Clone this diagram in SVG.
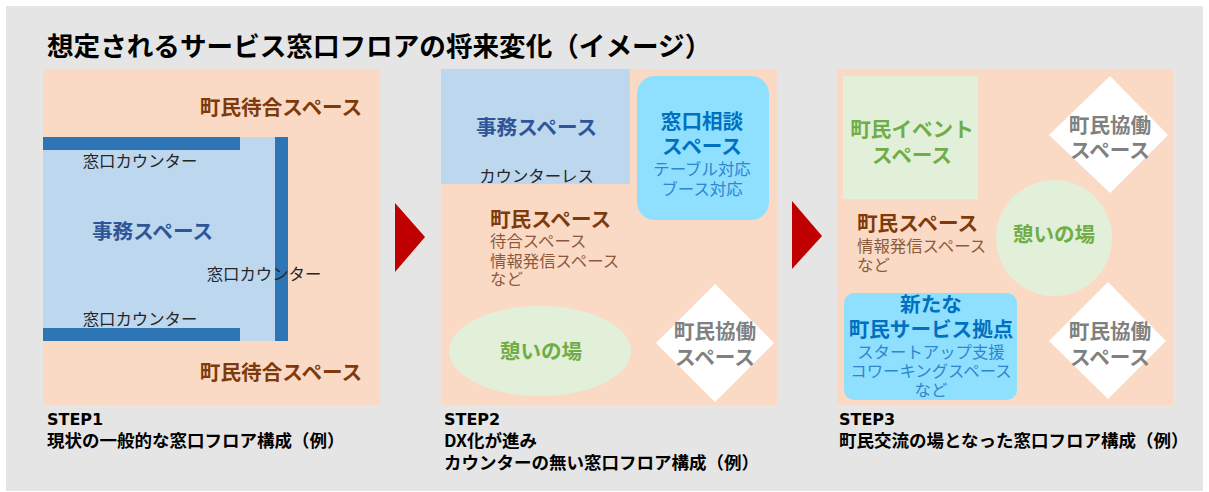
<svg xmlns="http://www.w3.org/2000/svg" width="1209" height="492" viewBox="0 0 1209 492">
<style>
text{font-family:"Noto Sans CJK JP","Noto Sans",sans-serif;text-anchor:middle}
.l{text-anchor:start}
.b{font-weight:700}
.h{font-size:20.6px;font-weight:700}
.s{font-size:16.4px}
.brown{fill:#7f3a0c}
.lb{fill:#8b5a3c}
.navy{fill:#2f5597}
.dk{fill:#262626}
.blue{fill:#0070c0}
.lblue{fill:#2e86d0}
.green{fill:#70ad47}
.gray{fill:#808080}
.cap{font-size:17.5px;font-weight:700;fill:#000}
.step{font-family:"DejaVu Sans",sans-serif;font-size:16px;font-weight:700;fill:#000}
.floor{fill:#fbdac5}
.office{fill:#bdd7ee}
.counter{fill:#2e75b6}
.soft{fill:#8fdfff}
.pale{fill:#e2f0d9}
.w{fill:#fff}
.arrow{fill:#c00000}
</style>
<rect x="0" y="0" width="1209" height="492" fill="#ffffff"/>
<rect x="6" y="6" width="1197" height="485" fill="#e5e5e5"/>
<text id="title" class="l b" x="47" y="56" font-size="26.6" fill="#000">想定されるサービス窓口フロアの将来変化（イメージ）</text>

<g id="connectors">
<polygon class="arrow" points="395,203 425,237 395,272"/>
<polygon class="arrow" points="792,201 822,236 792,269"/>
</g>

<g id="step1">
<rect class="floor" x="43" y="69" width="337" height="336"/>
<rect class="office" x="43" y="137" width="245" height="204"/>
<rect class="counter" x="43" y="137" width="197" height="13"/>
<rect class="counter" x="275" y="137" width="13" height="204"/>
<rect class="counter" x="43" y="328" width="197" height="13"/>
<text class="h brown" x="281" y="115">町民待合スペース</text>
<text class="h brown" x="281" y="380">町民待合スペース</text>
<text class="h navy" x="152.500" y="239">事務スペース</text>
<text class="s dk" x="140" y="167">窓口カウンター</text>
<text class="s dk" x="264" y="280">窓口カウンター</text>
<text class="s dk" x="140" y="325">窓口カウンター</text>
<text class="step l" x="47" y="425">STEP1</text>
<text class="cap l" x="47" y="447">現状の一般的な窓口フロア構成（例）</text>
</g>

<g id="step2">
<rect class="floor" x="441" y="69" width="336" height="336"/>
<rect class="office" x="441" y="69" width="189" height="115"/>
<rect class="soft" x="637" y="76" width="132" height="144" rx="18"/>
<ellipse class="pale" cx="540" cy="351" rx="91" ry="45"/>
<polygon class="w" points="715,284 774,343 715,402 656,343"/>
<text class="h navy" x="536.500" y="135">事務スペース</text>
<text class="s dk" x="536.500" y="182">カウンターレス</text>
<text class="h blue" x="702" y="129">窓口相談</text>
<text class="h blue" x="702" y="154">スペース</text>
<text class="s lblue" x="702" y="175">テーブル対応</text>
<text class="s lblue" x="702" y="195">ブース対応</text>
<text class="h brown l" x="490" y="227">町民スペース</text>
<text class="s lb l" x="490" y="247">待合スペース</text>
<text class="s lb l" x="490" y="267">情報発信スペース</text>
<text class="s lb l" x="490" y="285">など</text>
<text class="h green" x="541" y="359">憩いの場</text>
<text class="h gray" x="715" y="339">町民協働</text>
<text class="h gray" x="715" y="365">スペース</text>
<text class="step l" x="444" y="425">STEP2</text>
<text class="cap l" x="444" y="447">DX化が進み</text>
<text class="cap l" x="444" y="469">カウンターの無い窓口フロア構成（例）</text>
</g>

<g id="step3">
<rect class="floor" x="837" y="69" width="336" height="336"/>
<rect class="pale" x="843" y="76" width="135" height="123"/>
<circle class="pale" cx="1054" cy="238" r="58"/>
<rect class="soft" x="844" y="293" width="173" height="107" rx="10"/>
<polygon class="w" points="1110,76 1168,135 1110,193 1049,135"/>
<polygon class="w" points="1108,282 1166,341 1108,399 1049,341"/>
<text class="h green" x="912" y="137">町民イベント</text>
<text class="h green" x="912" y="163">スペース</text>
<text class="h gray" x="1110" y="133">町民協働</text>
<text class="h gray" x="1110" y="158">スペース</text>
<text class="h brown l" x="857" y="231">町民スペース</text>
<text class="s lb l" x="857" y="252">情報発信スペース</text>
<text class="s lb l" x="857" y="271">など</text>
<text class="h green" x="1054" y="242">憩いの場</text>
<text class="h blue" x="931" y="312">新たな</text>
<text class="h blue" x="931" y="337">町民サービス拠点</text>
<text class="s lblue" x="931" y="358">スタートアップ支援</text>
<text class="s lblue" x="931" y="377">コワーキングスペース</text>
<text class="s lblue" x="931" y="396">など</text>
<text class="h gray" x="1110" y="339">町民協働</text>
<text class="h gray" x="1110" y="365">スペース</text>
<text class="step l" x="839" y="425">STEP3</text>
<text class="cap l" x="839" y="447">町民交流の場となった窓口フロア構成（例）</text>
</g>
</svg>
